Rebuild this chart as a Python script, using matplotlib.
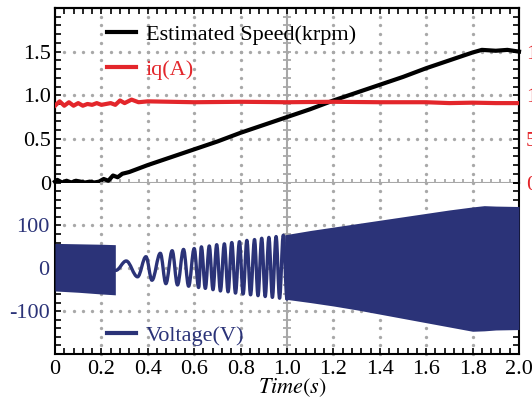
import numpy as np
import matplotlib
matplotlib.use('Agg')
import matplotlib.pyplot as plt
from matplotlib.ticker import MultipleLocator
from matplotlib.lines import Line2D
from matplotlib.path import Path
from matplotlib.patches import PathPatch

plt.rcParams['font.family'] = ['Liberation Serif', 'DejaVu Serif']
plt.rcParams['mathtext.fontset'] = 'stix'

# ---------------- data ----------------
speed_t = [0, 0.01, 0.03, 0.05, 0.07, 0.09, 0.11, 0.13, 0.15, 0.17, 0.19, 0.21, 0.23,
           0.25, 0.27, 0.29, 0.32, 0.36, 0.4, 0.5, 0.6, 0.7, 0.8, 0.9, 1.0, 1.1, 1.2,
           1.3, 1.4, 1.5, 1.6, 1.7, 1.8, 1.84, 1.9, 1.95, 2.0]
speed_v = [0.01, 0.03, 0.0, 0.02, 0.0, 0.02, 0.01, 0.0, 0.01, 0.0, 0.01, 0.04, 0.02,
           0.08, 0.06, 0.10, 0.12, 0.16, 0.20, 0.29, 0.38, 0.47, 0.57, 0.66, 0.75, 0.84,
           0.94, 1.03, 1.12, 1.21, 1.31, 1.40, 1.49, 1.52, 1.51, 1.52, 1.50]

iq_t = [0, 0.02, 0.04, 0.06, 0.08, 0.10, 0.12, 0.14, 0.16, 0.18, 0.20, 0.22, 0.24, 0.26,
        0.28, 0.30, 0.33, 0.36, 0.40, 0.5, 0.6, 0.8, 1.0, 1.2, 1.4, 1.6, 1.7, 1.8, 1.9, 2.0]
iq_v = [8.8, 9.3, 8.8, 9.2, 8.8, 9.1, 8.8, 9.0, 8.9, 9.1, 8.9, 9.0, 9.1, 8.9,
        9.4, 9.1, 9.5, 9.2, 9.3, 9.25, 9.2, 9.25, 9.2, 9.25, 9.2, 9.2, 9.1, 9.15, 9.1, 9.1]

# high-frequency block at start (envelope)
blk_t = [0, 0.1, 0.2, 0.26]
blk_top = [58, 57, 56, 55]
blk_bot = [-53, -56, -60, -62]

# visible oscillation extrema
wave_t = [0.262, 0.307, 0.356, 0.392, 0.418, 0.454, 0.478, 0.505, 0.528, 0.554, 0.576,
          0.600, 0.619, 0.631, 0.648, 0.665, 0.681, 0.697, 0.713, 0.730, 0.746, 0.762,
          0.778, 0.795, 0.811, 0.827, 0.843, 0.860, 0.875, 0.891, 0.906, 0.922, 0.937,
          0.953, 0.968, 0.984, 1.0]
wave_v = [-5, 17, -20, 27, -28, 35, -36, 41, -39, 44, -42,
          46, -45, 50, -47, 52, -50, 55, -53, 57, -55, 60,
          -58, 62, -60, 65, -62, 67, -64, 70, -66, 72, -68,
          74, -70, 77, -72]

# dense part envelope
env_t = [0.99, 1.1, 1.2, 1.3, 1.4, 1.5, 1.6, 1.7, 1.8, 1.85, 1.9, 2.0]
env_top = [78, 88, 96, 104, 112, 120, 128, 136, 143, 146, 145, 144]
env_bot = [-72, -80, -88, -97, -107, -117, -127, -137, -147, -146, -144, -143]

xticks = [0, 0.2, 0.4, 0.6, 0.8, 1.0, 1.2, 1.4, 1.6, 1.8, 2.0]
xtick_labels = ['0', '0.2', '0.4', '0.6', '0.8', '1.0', '1.2', '1.4', '1.6', '1.8', '2.0']
yticks_top = [0, 0.5, 1.0, 1.5]
ytick_labels_top = ['0', '0.5', '1.0', '1.5']
yticks_right = [0, 5, 10, 15]
ytick_labels_right = ['0', '5', '10', '15']
yticks_bot = [-100, 0, 100]
ytick_labels_bot = ['-100', '0', '100']

# ---------------- style ----------------
BLACK = '#000000'
RED = '#E3262B'
NAVY = '#2B3378'
GRAY = '#A8A8A8'
TICKFS = 16
LEGFS = 16

W, H = 532, 400
fig = plt.figure(figsize=(W / 100, H / 100), dpi=100)
L = 55 / W
AW = (519 - 55) / W
y_top, y_mid, y_bot = 8, 182.5, 354
ax1 = fig.add_axes([L, 1 - y_mid / H, AW, (y_mid - y_top) / H])
ax2 = fig.add_axes([L, 1 - y_bot / H, AW, (y_bot - y_mid) / H], sharex=ax1)
ax1r = ax1.twinx()

for ax in (ax1, ax2, ax1r):
    for s in ax.spines.values():
        s.set_linewidth(1.5)
ax1.spines['bottom'].set_visible(False)
ax1r.spines['bottom'].set_visible(False)
ax2.spines['top'].set_visible(False)

ax1.set_xlim(0, 2)
ax1.set_ylim(0, 2.0)
ax1r.set_ylim(0, 20)
ax2.set_ylim(-200, 200)

# graticule
minor_x = np.arange(0, 2.0001, 0.04)
def graticule(ax, ymin, ymax, ystep, ymajors, solid_x=1.0):
    minor_y = np.arange(ymin, ymax + 1e-9, ystep)
    for xv in xticks[1:-1]:
        if abs(xv - solid_x) < 1e-9:
            continue
        ax.plot([xv] * len(minor_y), minor_y, ls='none', marker='o', ms=2.4,
                mfc=GRAY, mec='none', zorder=1, clip_on=False)
    for yv in ymajors:
        ax.plot(minor_x[1:-1], [yv] * len(minor_x[1:-1]), ls='none', marker='o', ms=2.4,
                mfc=GRAY, mec='none', zorder=1)
    ax.axvline(solid_x, color=GRAY, lw=1.5, zorder=1)
    ax.plot([solid_x] * len(minor_y), minor_y, ls='none', marker='_', ms=6,
            mew=1.3, color=GRAY, zorder=1)

graticule(ax1, 0, 2.0, 0.1, [0.5, 1.0, 1.5])
graticule(ax2, -200, 200, 20, [-100, 0, 100])
ax1.axhline(0, color=GRAY, lw=1.5, zorder=1, clip_on=False)
ax1.plot(minor_x[1:-1], [0] * len(minor_x[1:-1]), ls='none', marker='|', ms=6,
         mew=1.3, color=GRAY, zorder=1, clip_on=False)

# data
ax1.plot(speed_t, speed_v, color=BLACK, lw=3.0, zorder=4, clip_on=False)
ax1r.plot(iq_t, iq_v, color=RED, lw=3.0, zorder=3)
ax2.fill_between(blk_t, blk_bot, blk_top, color=NAVY, lw=0, zorder=3)

# smooth wave through the read extrema (horizontal tangents at each extremum)
verts = [(wave_t[0], wave_v[0])]
codes = [Path.MOVETO]
k = 0.3642
for i in range(len(wave_t) - 1):
    t0, v0, t1, v1 = wave_t[i], wave_v[i], wave_t[i + 1], wave_v[i + 1]
    dt = t1 - t0
    verts += [(t0 + k * dt, v0), (t1 - k * dt, v1), (t1, v1)]
    codes += [Path.CURVE4] * 3
ax2.add_patch(PathPatch(Path(verts, codes), fill=False, edgecolor=NAVY, lw=2.4,
                        zorder=3, joinstyle='round', capstyle='round'))
ax2.fill_between(env_t, env_bot, env_top, color=NAVY, lw=0, zorder=3)

# ticks
ax1.set_xticks(xticks)
ax1.xaxis.set_minor_locator(MultipleLocator(0.04))
ax1.set_yticks(yticks_top)
ax1.set_yticklabels(ytick_labels_top)
ax1.yaxis.set_minor_locator(MultipleLocator(0.1))
ax1.tick_params(which='both', direction='in', top=True, bottom=False, left=True,
                right=False, labelbottom=False, length=4, width=1.2)
ax1.tick_params(axis='y', labelsize=TICKFS, pad=3, labelcolor=BLACK)

ax1r.set_yticks(yticks_right)
ax1r.set_yticklabels(ytick_labels_right)
ax1r.yaxis.set_minor_locator(MultipleLocator(1))
ax1r.tick_params(which='both', direction='in', length=4, width=1.2)
ax1r.tick_params(axis='y', labelsize=TICKFS, pad=5, labelcolor=RED)

ax2.set_xticks(xticks)
ax2.set_xticklabels(xtick_labels)
ax2.xaxis.set_minor_locator(MultipleLocator(0.04))
ax2.set_yticks(yticks_bot)
ax2.set_yticklabels(ytick_labels_bot)
ax2.yaxis.set_minor_locator(MultipleLocator(20))
ax2.tick_params(which='both', direction='in', top=False, bottom=True, left=True,
                right=True, length=4, width=1.2)
ax2.tick_params(axis='y', labelsize=TICKFS, pad=4, labelcolor=NAVY)
ax2.tick_params(axis='x', labelsize=TICKFS, pad=4, labelcolor=BLACK)

# legends
leg1 = ax1.legend([Line2D([], [], color=BLACK, lw=3), Line2D([], [], color=RED, lw=3)],
                  ['Estimated Speed(krpm)', 'iq(A)'], loc='upper left',
                  bbox_to_anchor=(0.112, 0.905), frameon=False, fontsize=LEGFS,
                  handlelength=1.3, handletextpad=0.45, labelspacing=0.65,
                  borderaxespad=0, borderpad=0)
leg1.get_texts()[1].set_color(RED)
leg2 = ax2.legend([Line2D([], [], color=NAVY, lw=3)], ['Voltage(V)'], loc='upper left',
                  bbox_to_anchor=(0.112, 0.165), frameon=False, fontsize=LEGFS,
                  handlelength=1.3, handletextpad=0.45, borderaxespad=0, borderpad=0)
leg2.get_texts()[0].set_color(NAVY)

fig.text(292 / W, 1 - 388 / H, r'$Time(s)$', fontsize=16, ha='center', va='center')

fig.savefig('out.png', dpi=100)
